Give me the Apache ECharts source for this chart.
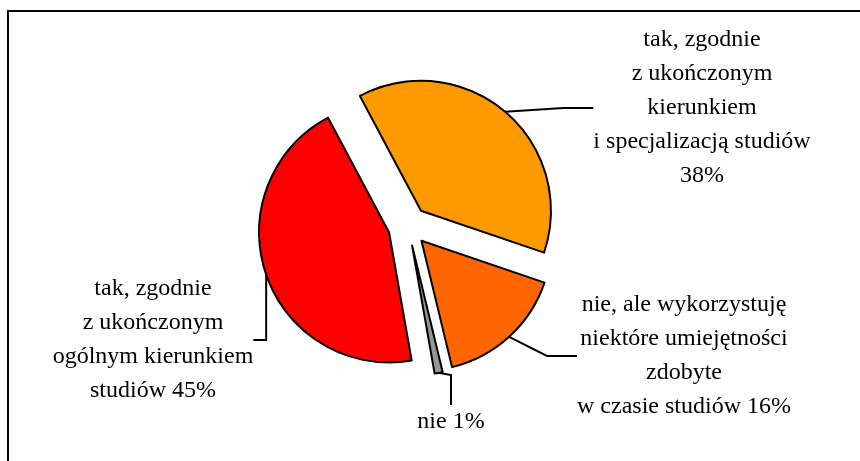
<!DOCTYPE html>
<html>
<head>
<meta charset="utf-8">
<script src="https://cdn.jsdelivr.net/npm/echarts@6/dist/echarts.min.js"></script>
<style>
  html, body { margin: 0; padding: 0; background: #fff; }
  #chart { width: 860px; height: 461px; }
</style>
</head>
<body>
<div id="chart"></div>
<script>
const categories = [
  'tak, zgodnie\nz ukończonym\nkierunkiem\ni specjalizacją studiów',
  'nie, ale wykorzystuję\nniektóre umiejętności\nzdobyte\nw czasie studiów',
  'nie',
  'tak, zgodnie\nz ukończonym\nogólnym kierunkiem\nstudiów'
]
const values = [38, 16, 1, 45]
const colors = ['#FF9900', '#FF6600', '#969696', '#FF0000']
// centre of each label block
const labelSpots = [[702, 108], [684, 356], [451, 422], [153, 340]]

const cx = 408, cy = 226, explode = 20, startAngle = 118
const total = values.reduce((a, b) => a + b, 0)

// one series per slice so each slice can be pulled out along its own mid-angle
// (angles measured clockwise from 12 o'clock)
let acc = 0
const series = values.map((v, i) => {
  const mid = ((90 - startAngle) + (acc + v / 2) / total * 360) * Math.PI / 180
  acc += v
  return {
    type: 'pie',
    center: [cx + explode * Math.sin(mid), cy - explode * Math.cos(mid)],
    radius: 130,
    startAngle: startAngle,
    clockwise: true,
    avoidLabelOverlap: false,
    silent: true,
    emphasis: { disabled: true },
    label: {
      fontFamily: 'Liberation Serif',
      fontSize: 24,
      lineHeight: 34,
      color: '#000',
      align: 'center',
      formatter: p => i === 0 ? p.name + '\n' + p.value + '%' : p.name + ' ' + p.value + '%'
    },
    labelLine: { lineStyle: { color: '#000', width: 2 } },
    labelLayout: () => ({
      x: labelSpots[i][0],
      y: labelSpots[i][1],
      align: 'center',
      verticalAlign: 'middle'
    }),
    data: values.map((w, j) => ({
      name: categories[j],
      value: w,
      itemStyle: j === i
        ? { color: colors[j], borderColor: '#000', borderWidth: 2 }
        : { color: 'rgba(0,0,0,0)', borderWidth: 0 },
      label: { show: j === i },
      labelLine: { show: j === i }
    }))
  }
})

const chart = echarts.init(document.getElementById('chart'))

chart.setOption({
  animation: false,
  graphic: [{
    type: 'rect',
    shape: { x: 8, y: 11, width: 900, height: 500 },
    style: { fill: 'none', stroke: '#000', lineWidth: 2 }
  }],
  series: series
})
</script>
</body>
</html>
